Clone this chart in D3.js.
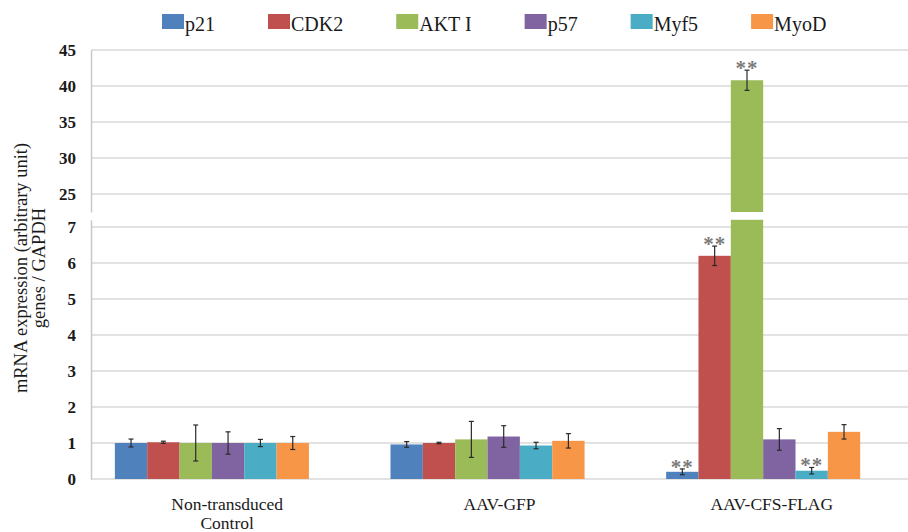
<!DOCTYPE html>
<html>
<head>
<meta charset="utf-8">
<script src="https://cdn.jsdelivr.net/npm/d3@7"></script>
<style>
  body { margin: 0; background: #fff; }
  svg { display: block; }
  svg text { font-family: "Liberation Serif", "Times New Roman", serif; }
</style>
</head>
<body>
<svg width="908" height="532"></svg>
<script>
// categories and series
const groups = ["Non-transduced Control", "AAV-GFP", "AAV-CFS-FLAG"];
const groupLines = [["Non-transduced", "Control"], ["AAV-GFP"], ["AAV-CFS-FLAG"]];
const genes = ["p21", "CDK2", "AKT I", "p57", "Myf5", "MyoD"];
const colors = ["#4F81BD", "#C0504D", "#9BBB59", "#8064A2", "#4BACC6", "#F79646"];

// mean values per group (order follows genes)
const nonTransduced = [1.0, 1.02, 1.0, 1.0, 1.0, 1.0];
const aavGfp        = [0.96, 1.0, 1.1, 1.18, 0.93, 1.06];
const aavCfsFlag    = [0.2, 6.2, 40.8, 1.1, 0.23, 1.31];

// error (+/-)
const errNonTransduced = [0.11, 0.03, 0.5, 0.31, 0.1, 0.18];
const errAavGfp        = [0.08, 0.02, 0.5, 0.3, 0.09, 0.2];
const errAavCfsFlag    = [0.08, 0.27, 1.4, 0.3, 0.09, 0.2];

// significance marks (**)
const starsAavCfsFlag = [true, true, true, false, true, false];

// tick labels
const lowTicks = [0, 1, 2, 3, 4, 5, 6, 7];
const highTicks = [25, 30, 35, 40, 45];

const means = [nonTransduced, aavGfp, aavCfsFlag];
const errs = [errNonTransduced, errAavGfp, errAavCfsFlag];
const stars = [[], [], starsAavCfsFlag];

const data = [];
groups.forEach((g, gi) => genes.forEach((s, si) => data.push({
    group: g, gene: s, value: means[gi][si], err: errs[gi][si], star: !!stars[gi][si]
})));

const svg = d3.select("svg");
const left = 91, right = 908;

// broken y axis: lower and upper panels
const yLow = d3.scaleLinear().domain([0, 7.2]).range([479, 219.8]);
const yHigh = d3.scaleLinear().domain([22.5, 45]).range([212, 50]);
const yOf = v => v > 7.2 ? yHigh(v) : yLow(v);

const xCat = d3.scaleBand().domain(groups).range([left, right]);
const x0 = d3.scaleBand().domain(groups).range([left, right])
    .paddingInner(0.296).paddingOuter(0.13).align(0.333);
const x1 = d3.scaleBand().domain(genes).range([0, x0.bandwidth()]);
const color = d3.scaleOrdinal().domain(genes).range(colors);

// gridlines
const grid = svg.append("g").attr("stroke", "#d9d9d9").attr("stroke-width", 1.5);
grid.selectAll(".gl").data(lowTicks).join("line")
    .attr("x1", left).attr("x2", right)
    .attr("y1", d => yLow(d)).attr("y2", d => yLow(d));
grid.selectAll(".gh").data(highTicks).join("line")
    .attr("x1", left).attr("x2", right)
    .attr("y1", d => yHigh(d)).attr("y2", d => yHigh(d));

// axes
const styleAxis = g => {
    g.attr("font-family", null);
    g.select(".domain").attr("stroke", "#c8c8c8").attr("stroke-width", 1.5);
    g.selectAll(".tick line").remove();
    g.selectAll(".tick text")
        .attr("fill", "#1a1a1a")
        .style("font-size", "17px").style("font-weight", "bold");
};
svg.append("g").attr("transform", `translate(${left},0)`)
    .call(d3.axisLeft(yLow).tickValues(lowTicks).tickSize(0).tickPadding(15))
    .call(styleAxis);
svg.append("g").attr("transform", `translate(${left},0)`)
    .call(d3.axisLeft(yHigh).tickValues(highTicks).tickSize(0).tickPadding(15))
    .call(styleAxis);

// bars
const bars = svg.append("g");
bars.selectAll(".low").data(data).join("rect")
    .attr("x", d => x0(d.group) + x1(d.gene))
    .attr("width", x1.bandwidth())
    .attr("y", d => yLow(Math.min(d.value, 7.2)))
    .attr("height", d => yLow(0) - yLow(Math.min(d.value, 7.2)))
    .attr("fill", d => color(d.gene));
bars.selectAll(".high").data(data.filter(d => d.value > 22.5)).join("rect")
    .attr("x", d => x0(d.group) + x1(d.gene))
    .attr("width", x1.bandwidth())
    .attr("y", d => yHigh(d.value))
    .attr("height", d => yHigh(22.5) - yHigh(d.value))
    .attr("fill", d => color(d.gene));

// error bars
const eb = svg.append("g").attr("stroke", "#2a2a2a").attr("stroke-width", 1.2);
const cx = d => x0(d.group) + x1(d.gene) + x1.bandwidth() / 2;
eb.selectAll(".v").data(data).join("line")
    .attr("x1", cx).attr("x2", cx)
    .attr("y1", d => yOf(d.value + d.err)).attr("y2", d => yOf(d.value - d.err));
eb.selectAll(".t").data(data).join("line")
    .attr("x1", d => cx(d) - 2.5).attr("x2", d => cx(d) + 2.5)
    .attr("y1", d => yOf(d.value + d.err)).attr("y2", d => yOf(d.value + d.err));
eb.selectAll(".b").data(data).join("line")
    .attr("x1", d => cx(d) - 2.5).attr("x2", d => cx(d) + 2.5)
    .attr("y1", d => yOf(d.value - d.err)).attr("y2", d => yOf(d.value - d.err));

// significance stars
svg.append("g").selectAll("text").data(data.filter(d => d.star)).join("text")
    .attr("x", cx)
    .attr("y", d => yOf(d.value + d.err) + 5)
    .attr("text-anchor", "middle")
    .attr("fill", "#7a7a7a")
    .attr("letter-spacing", 1)
    .style("font-size", "21px").style("font-weight", "bold")
    .text("**");

// category labels
const cat = svg.append("g");
groups.forEach((g, i) => {
    const t = cat.append("text")
        .attr("x", xCat(g) + xCat.bandwidth() / 2)
        .attr("y", 510)
        .attr("text-anchor", "middle")
        .attr("fill", "#1a1a1a")
        .style("font-size", "17.5px");
    groupLines[i].forEach((line, li) => {
        t.append("tspan").attr("x", xCat(g) + xCat.bandwidth() / 2)
            .attr("dy", li === 0 ? 0 : 19).text(line);
    });
});

// y title
const yt = svg.append("text")
    .attr("transform", "translate(27,268) rotate(-90)")
    .attr("text-anchor", "middle")
    .attr("fill", "#1a1a1a")
    .style("font-size", "18.5px");
yt.append("tspan").attr("x", 0).attr("dy", 0).text("mRNA expression (arbitrary unit)");
yt.append("tspan").attr("x", 0).attr("dy", 18).text("genes / GAPDH");

// legend
const legend = svg.append("g");
let lx = 162;
genes.forEach((s, i) => {
    legend.append("rect")
        .attr("x", lx).attr("y", 14).attr("width", 22).attr("height", 15)
        .attr("fill", color(s));
    const t = legend.append("text")
        .attr("x", lx + 23).attr("y", 31)
        .attr("fill", "#1a1a1a")
        .style("font-size", "20px")
        .text(s);
    lx += 23 + t.node().getComputedTextLength() + 53;
});
</script>
</body>
</html>
